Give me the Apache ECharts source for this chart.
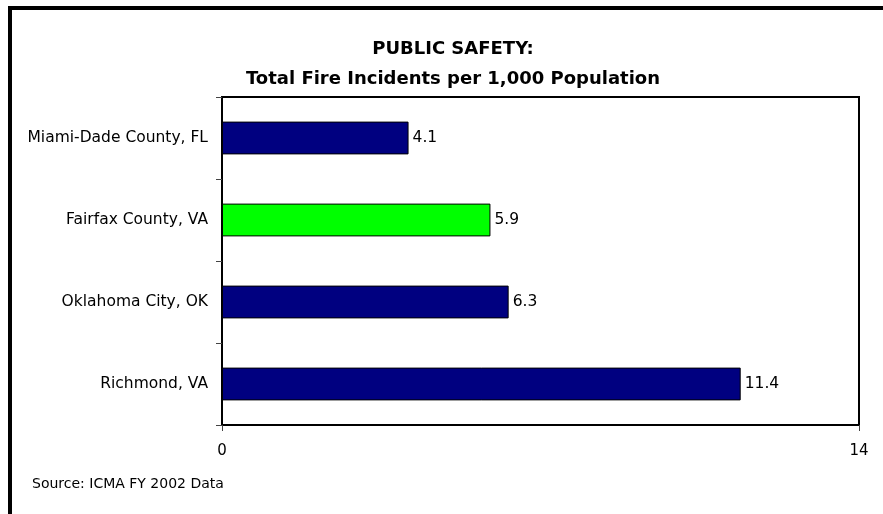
<!DOCTYPE html>
<html>
<head>
<meta charset="utf-8">
<script src="https://cdn.jsdelivr.net/npm/echarts@6/dist/echarts.min.js"></script>
<style>
  html, body { margin: 0; padding: 0; background: #fff; }
  #chart { width: 883px; height: 514px; }
  /* black frame on top and left like the original image */
  #frame { position: absolute; left: 8px; top: 6px; width: 875px; height: 508px;
           border-top: 4px solid #000; border-left: 4px solid #000; box-sizing: border-box; pointer-events: none; }
</style>
</head>
<body>
<div id="chart"></div>
<div id="frame"></div>
<script>
// 数据
var categories = ['Miami-Dade County, FL', 'Fairfax County, VA', 'Oklahoma City, OK', 'Richmond, VA'];
var values = [4.1, 5.9, 6.3, 11.4];
var barColors = ['#000080', '#00ff00', '#000080', '#000080'];
var xTicks = [0, 14];

var font = 'DejaVu Sans';
var chart = echarts.init(document.getElementById('chart'));
var option = {
  animation: false,
  textStyle: { fontFamily: font },
  title: {
    text: 'PUBLIC SAFETY:\nTotal Fire Incidents per 1,000 Population',
    left: 448,
    top: 29,
    textAlign: 'center',
    textStyle: { fontSize: 18, fontWeight: 'bold', color: '#000', lineHeight: 30, fontFamily: font }
  },
  graphic: [{
    type: 'text',
    left: 32,
    top: 477,
    style: { text: 'Source: ICMA FY 2002 Data', fontSize: 14, fontFamily: font, fill: '#000' }
  }],
  grid: {
    left: 222, right: 24, top: 97, bottom: 89,
    show: true, borderColor: '#000', borderWidth: 2, backgroundColor: 'transparent'
  },
  xAxis: {
    type: 'value',
    min: xTicks[0],
    max: xTicks[1],
    interval: 14,
    splitLine: { show: false },
    axisLine: { show: true, lineStyle: { color: '#000', width: 2 } },
    axisTick: { show: true, length: 6, lineStyle: { color: '#444', width: 1 } },
    axisLabel: { fontSize: 15, color: '#000', margin: 19, fontFamily: font }
  },
  yAxis: {
    type: 'category',
    data: categories,
    inverse: true,
    axisLine: { show: true, lineStyle: { color: '#000', width: 2 } },
    axisTick: { show: true, length: 6, lineStyle: { color: '#444', width: 1 } },
    axisLabel: { fontSize: 15.5, color: '#000', margin: 14, fontFamily: font }
  },
  series: [{
    type: 'bar',
    barCategoryGap: '60%',
    data: values.map(function (v, i) {
      return { value: v, itemStyle: { color: barColors[i] } };
    }),
    itemStyle: { borderColor: '#000', borderWidth: 1 },
    label: { show: true, position: 'right', distance: 4, fontSize: 15.5, color: '#000', fontFamily: font }
  }]
};
chart.setOption(option);
</script>
</body>
</html>
